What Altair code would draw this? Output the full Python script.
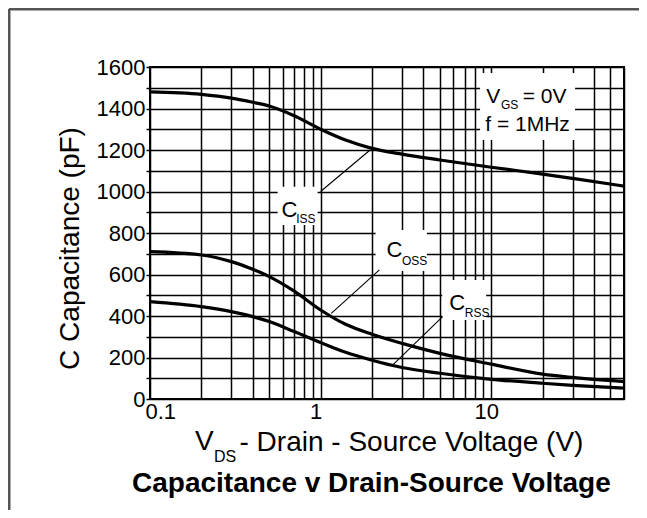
import altair as alt
import pandas as pd

# ---- data ----
V_DS = [0.1, 0.2, 0.3, 0.4, 0.5, 0.7, 1.0, 1.4, 2.0, 3.0, 5.0, 10.0, 20.0, 30.0, 60.0]
C_ISS = [1480, 1468, 1450, 1430, 1412, 1365, 1300, 1248, 1208, 1180, 1152, 1117, 1084, 1063, 1026]
C_OSS = [710, 694, 662, 625, 590, 520, 429, 360, 312, 268, 220, 168, 120, 104, 84]
C_RSS = [469, 445, 421, 397, 373, 325, 272, 225, 187, 152, 124, 95, 76, 66, 52]

X_GRID = [0.1, 0.2, 0.3, 0.4, 0.5, 0.6, 0.7, 0.8, 0.9, 1, 2, 3, 4, 5, 6, 7, 8, 9,
          10, 20, 30, 40, 50, 60]
X_LABELS = ["0.1", "1", "10"]
Y_GRID = [0, 100, 200, 300, 400, 500, 600, 700, 800, 900, 1000, 1100, 1200, 1300,
          1400, 1500, 1600]
Y_LABELS = [0, 200, 400, 600, 800, 1000, 1200, 1400, 1600]

# annotation anchors (data units)
BOX_X = [0.56, 2.10, 5.16, 8.6]
BOX_X2 = [0.96, 4.2, 9.34, 31]
BOX_Y = [839, 617, 381, 1248]
BOX_Y2 = [1023, 814, 573, 1571]

LEAD_X = [1.0, 1.155, 2.65]
LEAD_X2 = [1.95, 2.21, 5.19]
LEAD_Y = [1000, 413, 164]
LEAD_Y2 = [1200, 622, 397]

LAB_TEXT = ["C", "ISS", "C", "OSS", "C", "RSS", "V", "GS", "= 0V", "f = 1MHz"]
LAB_X = [0.59, 0.72, 2.43, 3.0, 5.68, 7.0, 9.35, 11.4, 15.3, 9.22]
LAB_Y = [877, 848, 684, 646, 429, 395, 1426, 1400, 1426, 1293]
LAB_FS = [22, 12, 22, 12, 22, 12, 21, 12, 21, 21]

FONT = "Liberation Sans"

curves = pd.DataFrame({
    "V": V_DS * 3,
    "C": C_ISS + C_OSS + C_RSS,
    "series": ["Ciss"] * len(V_DS) + ["Coss"] * len(V_DS) + ["Crss"] * len(V_DS),
})
boxes = pd.DataFrame({"x": BOX_X, "x2": BOX_X2, "y": BOX_Y, "y2": BOX_Y2})
leaders = pd.DataFrame({"x": LEAD_X, "x2": LEAD_X2, "y": LEAD_Y, "y2": LEAD_Y2})
labels = pd.DataFrame({"x": LAB_X, "y": LAB_Y, "text": LAB_TEXT, "fs": LAB_FS})
one = pd.DataFrame({"k": [0]})

xscale = alt.Scale(type="log", domain=[0.1, 60], nice=False)
yscale = alt.Scale(domain=[0, 1600], nice=False, zero=True)

x_label_expr = " : ".join(f"datum.value == {v} ? '{v}'" for v in X_LABELS) + " : ''"
y_label_expr = ("indexof([" + ",".join(str(v) for v in Y_LABELS) +
                "], datum.value) >= 0 ? '' + datum.value : ''")

xaxis = alt.Axis(
    values=X_GRID, labelExpr=x_label_expr, ticks=False, labelPadding=2,
    labelOffset=-5, labelFontSize=22, labelColor="black", labelFont=FONT,
    title="- Drain - Source Voltage (V)",
    titleX=89, titleY=51, titleAlign="left", titleBaseline="alphabetic",
    titleFontSize=28, titleFontWeight="normal", titleColor="black", titleFont=FONT,
)
yaxis = alt.Axis(
    values=Y_GRID, labelExpr=y_label_expr, tickSize=4, tickWidth=1.5,
    tickColor="black", labelPadding=1, labelFontSize=22, labelColor="black",
    labelFont=FONT,
    title="C Capacitance (pF)", titleX=-72, titleY=181, titleAngle=270,
    titleAlign="center", titleBaseline="alphabetic", titleFontSize=28,
    titleFontWeight="normal", titleColor="black", titleFont=FONT,
)


def X(field):
    return alt.X(field, type="quantitative", scale=xscale, axis=xaxis)


def Y(field):
    return alt.Y(field, type="quantitative", scale=yscale, axis=yaxis)


box_layer = alt.Chart(boxes).mark_rect(color="white").encode(
    x=X("x"), x2="x2:Q", y=Y("y"), y2="y2:Q",
)

curve_layer = alt.Chart(curves).mark_line(
    color="black", strokeWidth=3.2, interpolate="monotone"
).encode(
    x=X("V"), y=Y("C"), detail="series:N",
)

leader_layer = alt.Chart(leaders).mark_rule(color="black", strokeWidth=1.1).encode(
    x=X("x"), x2="x2:Q", y=Y("y"), y2="y2:Q",
)

label_layer = alt.Chart(labels).mark_text(
    align="left", baseline="alphabetic", color="black", font=FONT
).encode(
    x=X("x"), y=Y("y"),
    text="text:N",
    size=alt.Size("fs:Q", scale=None),
)

# "V" with subscript "DS" leading the x-axis title
v_main = alt.Chart(one).mark_text(
    align="left", baseline="alphabetic", color="black", font=FONT,
    fontSize=28, text="V"
).encode(x=alt.value(45), y=alt.value(383))
sub_ds = alt.Chart(one).mark_text(
    align="left", baseline="alphabetic", color="black", font=FONT,
    fontSize=16, text="DS"
).encode(x=alt.value(64), y=alt.value(395))

# outer frame of the figure (decoration)
frame_left = alt.Chart(one).mark_rule(color="#555555", strokeWidth=3).encode(
    x=alt.value(-141), y=alt.value(-58), y2=alt.value(455)
)
frame_top = alt.Chart(one).mark_rule(color="#555555", strokeWidth=3).encode(
    x=alt.value(-141), x2=alt.value(500), y=alt.value(-58)
)

chart = alt.layer(
    box_layer, curve_layer, leader_layer, label_layer, v_main, sub_ds,
    frame_left, frame_top
).properties(
    width=474, height=332,
    padding={"left": 142, "top": 59, "right": 15, "bottom": 111},
    autosize=alt.AutoSizeParams(type="none"),
    title=alt.TitleParams(
        text="Capacitance v Drain-Source Voltage", orient="bottom", anchor="start",
        frame="group", baseline="alphabetic",
        dx=-18, offset=-32, fontSize=28, fontWeight="bold", color="black", font=FONT,
    ),
).configure(font=FONT).configure_view(
    stroke="black", strokeWidth=2
).configure_axis(
    gridColor="black", gridWidth=1.5, gridOpacity=1, domain=False,
)

chart.save("out.html", embed_options={"renderer": "svg", "actions": False})
